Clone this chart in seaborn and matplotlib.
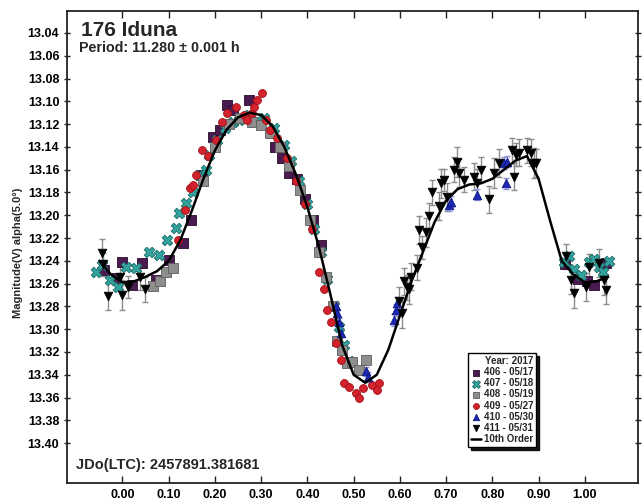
import numpy as np
import matplotlib
matplotlib.use("Agg")
import matplotlib.pyplot as plt
import seaborn as sns
from matplotlib.ticker import FormatStrFormatter

# ---- lightcurve data (phase, reduced magnitude) ----
p406 = [-0.040, -0.015, 0.000, 0.020, 0.043, 0.073, 0.100, 0.130, 0.149, 0.172,
        0.195, 0.210, 0.225, 0.240, 0.274, 0.330, 0.345, 0.360, 0.378, 0.395,
        0.412, 0.430, 0.958, 0.985, 1.004, 1.019, 1.045]
m406 = [13.248, 13.255, 13.241, 13.261, 13.242, 13.257, 13.239, 13.224, 13.204, 13.165,
        13.131, 13.125, 13.103, 13.108, 13.099, 13.140, 13.150, 13.163, 13.168, 13.186,
        13.204, 13.226, 13.243, 13.256, 13.258, 13.261, 13.242]

p407 = [-0.057, -0.045, -0.028, -0.010, 0.008, 0.030, 0.058, 0.080, 0.097, 0.116,
        0.123, 0.138, 0.152, 0.166, 0.180, 0.188, 0.205, 0.222, 0.240, 0.253,
        0.274, 0.290, 0.307, 0.328, 0.350, 0.365, 0.382, 0.400, 0.415, 0.430,
        0.443, 0.458, 0.469, 0.479, 0.490, 0.955, 0.965, 0.976, 0.991, 1.009,
        1.020, 1.030, 1.040, 1.052]
m407 = [13.250, 13.244, 13.257, 13.263, 13.245, 13.246, 13.232, 13.235, 13.222, 13.211,
        13.198, 13.189, 13.180, 13.165, 13.160, 13.147, 13.134, 13.123, 13.118, 13.116,
        13.112, 13.117, 13.115, 13.123, 13.138, 13.152, 13.170, 13.190, 13.212, 13.232,
        13.256, 13.280, 13.298, 13.314, 13.328, 13.241, 13.236, 13.247, 13.252, 13.241,
        13.238, 13.245, 13.250, 13.240]

p408 = [0.065, 0.082, 0.095, 0.110, 0.175, 0.200, 0.230, 0.255, 0.280, 0.300,
        0.320, 0.340, 0.360, 0.385, 0.405, 0.425, 0.440, 0.455, 0.464, 0.475,
        0.485, 0.497, 0.512, 0.527]
m408 = [13.262, 13.258, 13.250, 13.246, 13.170, 13.140, 13.120, 13.115, 13.118, 13.121,
        13.128, 13.140, 13.157, 13.178, 13.204, 13.232, 13.254, 13.280, 13.310, 13.318,
        13.330, 13.329, 13.336, 13.327]

p409 = [0.120, 0.135, 0.145, 0.152, 0.160, 0.173, 0.185, 0.203, 0.215, 0.225,
        0.245, 0.262, 0.270, 0.280, 0.285, 0.292, 0.302, 0.311, 0.320, 0.335,
        0.355, 0.375, 0.395, 0.410, 0.426, 0.436, 0.443, 0.451, 0.462, 0.473,
        0.480, 0.490, 0.505, 0.512, 0.520, 0.540, 0.551, 0.555]
m409 = [13.222, 13.195, 13.176, 13.173, 13.165, 13.143, 13.148, 13.134, 13.118, 13.110,
        13.105, 13.112, 13.116, 13.110, 13.105, 13.099, 13.093, 13.116, 13.125, 13.132,
        13.150, 13.170, 13.190, 13.212, 13.250, 13.265, 13.283, 13.294, 13.312, 13.327,
        13.347, 13.351, 13.356, 13.360, 13.352, 13.349, 13.353, 13.347]

p410 = [0.462, 0.465, 0.468, 0.473, 0.527, 0.530, 0.588, 0.592, 0.594, 0.706,
        0.710, 0.767, 0.825, 0.829, 0.832]
m410 = [13.280, 13.286, 13.294, 13.303, 13.337, 13.342, 13.292, 13.283, 13.277, 13.191,
        13.188, 13.182, 13.154, 13.172, 13.153]
e410 = [0.004, 0.004, 0.004, 0.004, 0.004, 0.004, 0.005, 0.005, 0.005, 0.005,
        0.005, 0.005, 0.005, 0.005, 0.005]

p411 = [-0.045, -0.043, -0.032, -0.006, 0.000, 0.011, 0.037, 0.048, 0.598, 0.605,
        0.609, 0.616, 0.620, 0.624, 0.637, 0.641, 0.648, 0.656, 0.663, 0.670,
        0.685, 0.689, 0.695, 0.702, 0.717, 0.724, 0.728, 0.739, 0.760, 0.767,
        0.775, 0.793, 0.803, 0.814, 0.843, 0.847, 0.851, 0.857, 0.875, 0.883,
        0.890, 0.894, 0.959, 0.970, 0.976, 1.002, 1.009, 1.030, 1.041, 1.045]
m411 = [13.233, 13.243, 13.271, 13.254, 13.270, 13.263, 13.254, 13.265, 13.275, 13.286,
        13.258, 13.263, 13.265, 13.254, 13.246, 13.213, 13.228, 13.215, 13.201, 13.180,
        13.192, 13.172, 13.169, 13.184, 13.160, 13.153, 13.163, 13.169, 13.166, 13.172,
        13.160, 13.186, 13.163, 13.154, 13.143, 13.166, 13.147, 13.145, 13.143, 13.145,
        13.154, 13.154, 13.236, 13.257, 13.268, 13.263, 13.245, 13.242, 13.257, 13.266]
e411 = [0.012, 0.010, 0.012, 0.011, 0.013, 0.010, 0.012, 0.011, 0.012, 0.013,
        0.012, 0.011, 0.013, 0.012, 0.011, 0.012, 0.010, 0.013, 0.012, 0.011,
        0.012, 0.013, 0.010, 0.012, 0.011, 0.013, 0.012, 0.011, 0.012, 0.013,
        0.011, 0.012, 0.013, 0.012, 0.011, 0.012, 0.010, 0.012, 0.011, 0.012,
        0.013, 0.012, 0.011, 0.012, 0.013, 0.012, 0.011, 0.012, 0.013, 0.012]

# 10th order Fourier fit, sampled along phase
fit_phase = [-0.050, -0.025, 0.000, 0.025, 0.050, 0.075, 0.100, 0.125, 0.150, 0.175,
             0.200, 0.225, 0.250, 0.275, 0.300, 0.325, 0.350, 0.375, 0.400, 0.425,
             0.450, 0.475, 0.500, 0.525, 0.550, 0.575, 0.600, 0.625, 0.650, 0.675,
             0.700, 0.725, 0.750, 0.775, 0.800, 0.825, 0.850, 0.875, 0.900, 0.925,
             0.950, 0.975, 1.000, 1.025, 1.050]
fit_mag = [13.240, 13.252, 13.259, 13.258, 13.254, 13.249, 13.240, 13.222, 13.196, 13.168,
           13.143, 13.125, 13.114, 13.110, 13.112, 13.122, 13.140, 13.164, 13.193, 13.228,
           13.270, 13.314, 13.340, 13.347, 13.340, 13.318, 13.288, 13.258, 13.232, 13.206,
           13.187, 13.177, 13.173, 13.172, 13.168, 13.160, 13.152, 13.148, 13.168, 13.205,
           13.240, 13.252, 13.259, 13.258, 13.254]

x_ticks = [0.0, 0.1, 0.2, 0.3, 0.4, 0.5, 0.6, 0.7, 0.8, 0.9, 1.0]
y_ticks = [13.04, 13.06, 13.08, 13.10, 13.12, 13.14, 13.16, 13.18, 13.20, 13.22,
           13.24, 13.26, 13.28, 13.30, 13.32, 13.34, 13.36, 13.38, 13.40]

sns.set_style("ticks")
plt.rcParams["font.family"] = ["Liberation Sans", "DejaVu Sans"]
plt.rcParams["font.weight"] = "bold"

fig = plt.figure(figsize=(6.42, 5.0), dpi=100)
ax = fig.add_axes([67 / 642, 17 / 500, 571 / 642, 472 / 500])

# error bars
ax.errorbar(p411, m411, yerr=e411, fmt="none", ecolor="#8c8c8c", elinewidth=1.0,
            capsize=2.5, capthick=1.0, zorder=1)
ax.errorbar(p410, m410, yerr=e410, fmt="none", ecolor="#8f93d8", elinewidth=1.0,
            capsize=2.0, capthick=1.0, zorder=1)

series = [
    (p406, m406, "s", "#4a1a50", "#2a0a2e", 42, "406 - 05/17"),
    (p407, m407, "X", "#33a39e", "#1d6b68", 58, "407 - 05/18"),
    (p408, m408, "s", "#8e8e8e", "#5c5c5c", 42, "408 - 05/19"),
    (p409, m409, "o", "#d3222b", "#9e1018", 32, "409 - 05/27"),
    (p410, m410, "^", "#1c27b5", "#0f1880", 38, "410 - 05/30"),
    (p411, m411, "v", "#000000", "#000000", 38, "411 - 05/31"),
]
for px, mx, mk, fc, ec, size, lab in series:
    sns.scatterplot(x=px, y=mx, marker=mk, color=fc, edgecolor=ec, linewidth=0.6,
                    s=size, ax=ax, label=lab, zorder=3)

sns.lineplot(x=fit_phase, y=fit_mag, color="black", linewidth=1.8, sort=False,
             estimator=None, ax=ax, label="10th Order", zorder=4)

ax.set_xlim(-0.12, 1.115)
ax.set_ylim(13.435, 13.0207)
ax.set_xticks(x_ticks)
ax.set_yticks(y_ticks)
ax.xaxis.set_major_formatter(FormatStrFormatter("%.2f"))
ax.yaxis.set_major_formatter(FormatStrFormatter("%.2f"))
ax.tick_params(axis="x", direction="in", top=True, length=5, width=1,
               labelsize=9, pad=4, colors="#222222", labelcolor="black")
ax.tick_params(axis="y", direction="inout", left=True, right=True, length=5, width=1,
               labelsize=9, pad=3, colors="#222222", labelcolor="black")
for lbl in ax.get_xticklabels() + ax.get_yticklabels():
    lbl.set_fontweight("bold")
for sp in ax.spines.values():
    sp.set_visible(True)
    sp.set_linewidth(1.3)
    sp.set_color("#222222")
ax.set_xlabel("")
ax.set_ylabel("")

fig.text(18 / 642, 1 - 253 / 500, "Magnitude(V) alpha(5.0°)", rotation=90,
         ha="center", va="center", fontsize=8, fontweight="bold")
fig.text(81 / 642, 1 - 30 / 500, "176 Iduna", ha="left", va="center",
         fontsize=15, fontweight="bold")
fig.text(79 / 642, 1 - 48 / 500, "Period: 11.280 ± 0.001 h", ha="left", va="center",
         fontsize=10.3, fontweight="bold")
fig.text(76 / 642, 1 - 465 / 500, "JDo(LTC): 2457891.381681", ha="left", va="center",
         fontsize=10.5, fontweight="bold")

handles, labels = ax.get_legend_handles_labels()
leg = ax.legend(handles, labels, title="Year: 2017", loc="lower right",
                bbox_to_anchor=(0.83, 0.066), fontsize=7, title_fontsize=7,
                frameon=True, fancybox=False, framealpha=1, edgecolor="black",
                shadow={"color": "black", "alpha": 0.9}, handlelength=1.0,
                handletextpad=0.3, labelspacing=0.12, borderpad=0.3,
                alignment="right", markerscale=0.75)
leg.get_frame().set_linewidth(1.0)
leg.get_title().set_fontweight("bold")
for t in leg.get_texts():
    t.set_fontweight("bold")

fig.savefig("out.png", dpi=100)
